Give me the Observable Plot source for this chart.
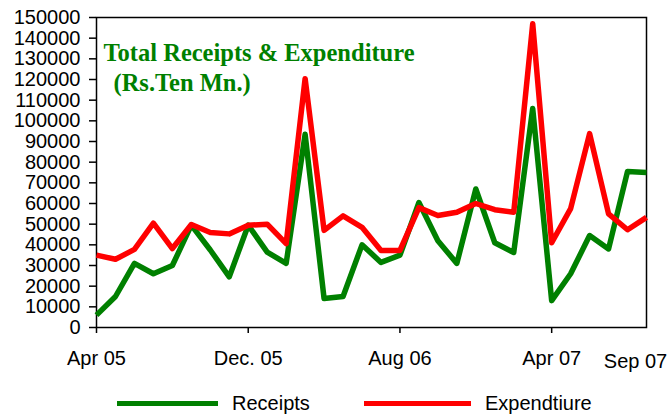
<!DOCTYPE html>
<html>
<head>
<meta charset="utf-8">
<script src="https://cdn.jsdelivr.net/npm/d3@7"></script>
<script src="https://cdn.jsdelivr.net/npm/@observablehq/plot@0.6"></script>
<style>
  body { margin: 0; background: #fff; font-family: "Liberation Sans", Arial, sans-serif; }
  #wrap { width: 670px; height: 417px; position: relative; }
  #legend { position: absolute; left: 0; top: 389px; width: 670px; height: 28px; }
  .li { position: absolute; top: 0; display: flex; align-items: center; height: 28px; font-size: 20px; color: #000; }
  .sw { display: inline-block; height: 5px; margin-right: 14px; }
</style>
</head>
<body>
<div id="wrap">
  <div id="chart"></div>
  <div id="legend">
    <div class="li" style="left:117px"><span class="sw" style="width:101px;background:#008000"></span>Receipts</div>
    <div class="li" style="left:364px"><span class="sw" style="width:107px;background:#ff0000"></span>Expendtiure</div>
  </div>
</div>
<script>
const months = ["Apr 05","May 05","Jun 05","Jul 05","Aug 05","Sep 05","Oct 05","Nov 05","Dec. 05","Jan 06","Feb 06","Mar 06","Apr 06","May 06","Jun 06","Jul 06","Aug 06","Sep 06","Oct 06","Nov 06","Dec 06","Jan 07","Feb 07","Mar 07","Apr 07","May 07","Jun 07","Jul 07","Aug 07","Sep 07"];
const receipts = [6000,15000,31000,26000,30000,49500,37500,24500,49500,36500,31000,93500,14000,15000,40000,31500,35000,60500,42000,31000,67000,41000,36300,106000,13000,26000,44500,38000,75500,75000];
const expenditure = [35000,33000,37800,50500,38200,49800,46000,45300,49500,50000,40600,120400,47000,54000,48500,37300,37300,58000,54200,55800,60000,57000,55800,147000,41000,57500,93800,55000,47300,53300];
const xTicks = [0, 8, 16, 24];
const lastLabelIndex = 29;
const yTicks = d3.range(0, 150001, 10000);
const titleLines = ["Total Receipts & Expenditure", "(Rs.Ten Mn.)"];

const rows = [];
months.forEach((m, i) => {
  rows.push({i, v: receipts[i], s: "Receipts"});
  rows.push({i, v: expenditure[i], s: "Expenditure"});
});

const chart = Plot.plot({
  width: 670,
  height: 389,
  marginLeft: 96,
  marginRight: 24,
  marginTop: 17,
  marginBottom: 62,
  style: {fontFamily: "'Liberation Sans', Arial, sans-serif", fontSize: "20px", color: "#000", background: "#fff"},
  x: {domain: [0, 29], type: "linear"},
  y: {domain: [0, 150000]},
  color: {domain: ["Receipts", "Expenditure"], range: ["#008000", "#ff0000"]},
  marks: [
    Plot.frame({stroke: "#000", strokeWidth: 1.5}),
    Plot.axisY({ticks: yTicks, tickFormat: d => String(d), tickSize: 7, tickPadding: 9, label: null, fontSize: 20, strokeWidth: 1.5}),
    Plot.axisX({ticks: xTicks, tickFormat: d => months[d], tickSize: 6, tickPadding: 17, label: null, fontSize: 20, strokeWidth: 1.5}),
    Plot.text([lastLabelIndex], {x: d => d, frameAnchor: "bottom", text: d => months[d], dy: 40, dx: -11, fontSize: 20, fill: "#000"}),
    Plot.line(rows, {x: "i", y: "v", z: "s", stroke: "s", strokeWidth: 5.5, strokeLinejoin: "round", strokeLinecap: "butt"}),
    Plot.text([titleLines[0]], {frameAnchor: "top-left", text: d => d, dx: 7, dy: 26, fontFamily: "'Liberation Serif', 'Times New Roman', serif", fontWeight: "bold", fontSize: 24.5, fill: "#008000", textAnchor: "start"}),
    Plot.text([titleLines[1]], {frameAnchor: "top-left", text: d => d, dx: 17, dy: 56, fontFamily: "'Liberation Serif', 'Times New Roman', serif", fontWeight: "bold", fontSize: 24.5, fill: "#008000", textAnchor: "start"})
  ]
});
document.getElementById("chart").appendChild(chart);
</script>
</body>
</html>
